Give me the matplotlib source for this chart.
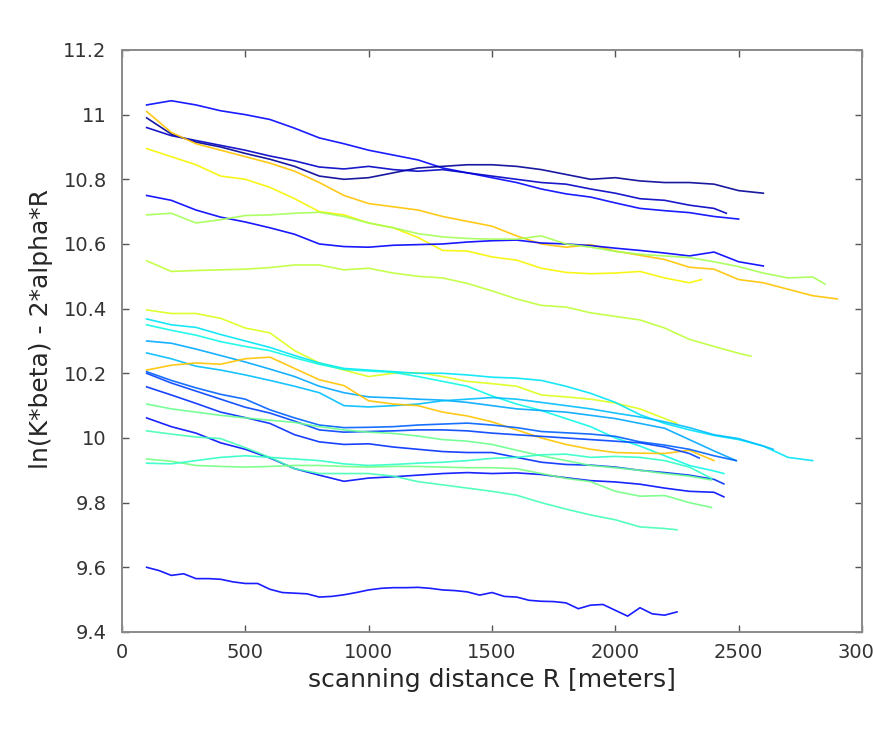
import matplotlib
matplotlib.use("Agg")
import matplotlib.pyplot as plt
import numpy as np

# ---- data: ln(K*beta) - 2*alpha*R per scan, sampled every 100 m from R=100 ----
# each entry: (last distance, values, jet colour index)
line_a = [11.03, 11.043, 11.03, 11.012, 11.0, 10.985, 10.958, 10.928, 10.91, 10.89,
          10.875, 10.86, 10.835, 10.82, 10.805, 10.79, 10.77, 10.755, 10.745, 10.727,
          10.71, 10.703, 10.697, 10.685, 10.677]
line_b = [10.99, 10.94, 10.915, 10.90, 10.88, 10.862, 10.84, 10.81, 10.80, 10.805,
          10.82, 10.835, 10.84, 10.845, 10.845, 10.84, 10.83, 10.815, 10.80, 10.805,
          10.795, 10.79, 10.79, 10.785, 10.765, 10.757]
line_c = [10.96, 10.935, 10.92, 10.905, 10.89, 10.872, 10.857, 10.838, 10.832, 10.84,
          10.83, 10.825, 10.83, 10.82, 10.81, 10.80, 10.79, 10.785, 10.77, 10.757,
          10.74, 10.735, 10.72, 10.71, 10.695]
line_d = [11.01, 10.945, 10.91, 10.89, 10.87, 10.85, 10.825, 10.79, 10.75, 10.725,
          10.715, 10.705, 10.685, 10.67, 10.655, 10.625, 10.60, 10.59, 10.598, 10.578,
          10.565, 10.552, 10.528, 10.522, 10.49, 10.48, 10.46, 10.44, 10.43]
line_e = [10.895, 10.87, 10.845, 10.81, 10.80, 10.775, 10.74, 10.70, 10.69, 10.665,
          10.65, 10.62, 10.58, 10.578, 10.56, 10.55, 10.525, 10.512, 10.508, 10.51,
          10.515, 10.495, 10.48, 10.49]
line_f = [10.75, 10.735, 10.705, 10.683, 10.668, 10.65, 10.63, 10.60, 10.592, 10.59,
          10.596, 10.598, 10.60, 10.606, 10.61, 10.612, 10.603, 10.60, 10.595, 10.587,
          10.58, 10.572, 10.563, 10.575, 10.545, 10.532]
line_g = [10.69, 10.695, 10.665, 10.675, 10.688, 10.69, 10.695, 10.698, 10.685, 10.665,
          10.65, 10.632, 10.622, 10.617, 10.615, 10.615, 10.625, 10.60, 10.59, 10.577,
          10.568, 10.563, 10.558, 10.545, 10.53, 10.51, 10.495, 10.498, 10.476]
line_h = [10.548, 10.515, 10.518, 10.52, 10.522, 10.527, 10.535, 10.535, 10.52, 10.525,
          10.51, 10.50, 10.495, 10.478, 10.455, 10.43, 10.41, 10.405, 10.387, 10.376,
          10.365, 10.34, 10.305, 10.283, 10.262, 10.253]
line_i = [10.396, 10.385, 10.385, 10.37, 10.34, 10.325, 10.27, 10.232, 10.21, 10.19,
          10.20, 10.202, 10.19, 10.175, 10.168, 10.16, 10.133, 10.127, 10.12, 10.108,
          10.09, 10.06, 10.045]
line_j = [10.368, 10.35, 10.342, 10.32, 10.30, 10.28, 10.255, 10.232, 10.215, 10.21,
          10.205, 10.20, 10.20, 10.195, 10.188, 10.185, 10.178, 10.16, 10.138, 10.11,
          10.072, 10.045, 10.025, 10.008, 9.995, 9.975, 9.94, 9.93]
line_k = [10.35, 10.333, 10.318, 10.298, 10.283, 10.27, 10.248, 10.228, 10.212, 10.207,
          10.203, 10.19, 10.175, 10.16, 10.13, 10.105, 10.085, 10.06, 10.035, 10.0,
          9.975, 9.945, 9.915, 9.898, 9.89]
line_l = [10.30, 10.293, 10.275, 10.255, 10.235, 10.213, 10.19, 10.16, 10.14, 10.127,
          10.124, 10.12, 10.117, 10.11, 10.10, 10.09, 10.085, 10.08, 10.07, 10.06,
          10.045, 10.03, 9.995, 9.96, 9.93]
line_m = [10.263, 10.245, 10.222, 10.21, 10.195, 10.178, 10.16, 10.14, 10.10, 10.096,
          10.10, 10.105, 10.115, 10.12, 10.125, 10.12, 10.11, 10.10, 10.09, 10.077,
          10.065, 10.05, 10.032, 10.01, 9.998, 9.975, 9.965]
line_n = [10.21, 10.225, 10.232, 10.228, 10.245, 10.25, 10.215, 10.18, 10.162, 10.115,
          10.105, 10.10, 10.08, 10.068, 10.05, 10.025, 10.0, 9.98, 9.965, 9.955,
          9.953, 9.952, 9.962, 9.93]
line_o = [10.205, 10.178, 10.155, 10.135, 10.12, 10.087, 10.062, 10.04, 10.032, 10.033,
          10.035, 10.04, 10.043, 10.046, 10.04, 10.032, 10.02, 10.016, 10.012, 10.005,
          9.988, 9.978, 9.965, 9.945, 9.93]
line_p = [10.20, 10.17, 10.145, 10.12, 10.095, 10.077, 10.052, 10.025, 10.018, 10.02,
          10.022, 10.025, 10.025, 10.022, 10.015, 10.01, 10.005, 10.0, 9.995, 9.99,
          9.985, 9.972, 9.952, 9.938]
line_r = [10.158, 10.133, 10.107, 10.08, 10.063, 10.045, 10.01, 9.988, 9.98, 9.982,
          9.972, 9.965, 9.958, 9.955, 9.955, 9.94, 9.925, 9.918, 9.916, 9.91,
          9.90, 9.893, 9.885, 9.872, 9.858]
line_s = [10.105, 10.09, 10.08, 10.07, 10.062, 10.055, 10.048, 10.035, 10.025, 10.018,
          10.014, 10.006, 9.995, 9.99, 9.98, 9.962, 9.945, 9.93, 9.915, 9.908,
          9.90, 9.89, 9.882, 9.87]
line_t = [10.062, 10.035, 10.015, 9.985, 9.965, 9.938, 9.905, 9.885, 9.866, 9.876,
          9.88, 9.885, 9.89, 9.893, 9.89, 9.892, 9.887, 9.877, 9.868, 9.864,
          9.857, 9.845, 9.835, 9.832, 9.818]
line_u = [10.022, 10.012, 10.003, 9.998, 9.97, 9.94, 9.905, 9.89, 9.89, 9.89,
          9.882, 9.865, 9.855, 9.845, 9.835, 9.823, 9.80, 9.78, 9.762, 9.747,
          9.725, 9.72, 9.716]
line_v = [9.935, 9.928, 9.915, 9.912, 9.91, 9.912, 9.915, 9.915, 9.912, 9.91,
          9.912, 9.912, 9.91, 9.908, 9.908, 9.905, 9.89, 9.875, 9.865, 9.835,
          9.82, 9.822, 9.80, 9.785]
line_w = [9.922, 9.92, 9.93, 9.94, 9.945, 9.94, 9.935, 9.93, 9.92, 9.915,
          9.918, 9.922, 9.925, 9.93, 9.937, 9.94, 9.948, 9.95, 9.94, 9.943,
          9.94, 9.93, 9.91, 9.875]
# bottom scan, sampled every 50 m
line_z = [9.60, 9.59, 9.575, 9.58, 9.565, 9.565, 9.563, 9.555, 9.55, 9.55,
          9.532, 9.522, 9.52, 9.518, 9.508, 9.51, 9.515, 9.522, 9.53, 9.535,
          9.537, 9.537, 9.538, 9.535, 9.53, 9.528, 9.524, 9.514, 9.522, 9.51,
          9.508, 9.498, 9.495, 9.494, 9.49, 9.472, 9.483, 9.485, 9.467, 9.449,
          9.475, 9.456, 9.452, 9.462]

scans = [
    (2500, line_a, 0.13), (2600, line_b, 0.02), (2450, line_c, 0.06),
    (2900, line_d, 0.70), (2350, line_e, 0.65), (2600, line_f, 0.12),
    (2850, line_g, 0.55), (2550, line_h, 0.58), (2250, line_i, 0.62),
    (2800, line_j, 0.35), (2440, line_k, 0.37), (2490, line_l, 0.29),
    (2640, line_m, 0.31), (2400, line_n, 0.70), (2490, line_o, 0.22),
    (2340, line_p, 0.19), (2440, line_r, 0.17), (2390, line_s, 0.48),
    (2440, line_t, 0.14), (2250, line_u, 0.43), (2390, line_v, 0.49),
    (2390, line_w, 0.41), (2250, line_z, 0.13),
]


def dist(end, n):
    """Distances for a scan: regular steps from 100 m, last point at end."""
    step = 50 if n > 30 else 100
    x = list(range(100, end, step))[:n - 1] + [end]
    return np.array(x)


fig = plt.figure(figsize=(8.73, 7.37), dpi=100)
ax = fig.add_axes([0.1397, 0.1425, 0.8477, 0.7897])

cmap = plt.cm.jet
for end, vals, c in scans:
    ax.plot(dist(end, len(vals)), vals, color=cmap(c), lw=1.2, alpha=0.9)

ax.set_xlim(0, 3000)
ax.set_ylim(9.4, 11.2)
ax.set_xticks(np.arange(0, 3001, 500))
ax.set_yticks(np.arange(9.4, 11.21, 0.2))
ax.set_yticklabels(['9.4', '9.6', '9.8', '10', '10.2', '10.4', '10.6',
                    '10.8', '11', '11.2'])

grey = '#8a8a8a'
for s in ax.spines.values():
    s.set_color(grey)
    s.set_linewidth(1.4)
ax.tick_params(direction='in', length=5, width=1.0, color='#555555',
               top=True, right=True, labelsize=14, labelcolor='#333333')
ax.tick_params(axis='x', pad=8)
ax.tick_params(axis='y', pad=11)

ax.set_xlabel('scanning distance R [meters]', fontsize=18, color='#262626',
              labelpad=4)
ax.set_ylabel('ln(K*beta) - 2*alpha*R', fontsize=18, color='#262626')
ax.yaxis.set_label_coords(-0.093, 0.52)

fig.savefig('out.png', dpi=100)
